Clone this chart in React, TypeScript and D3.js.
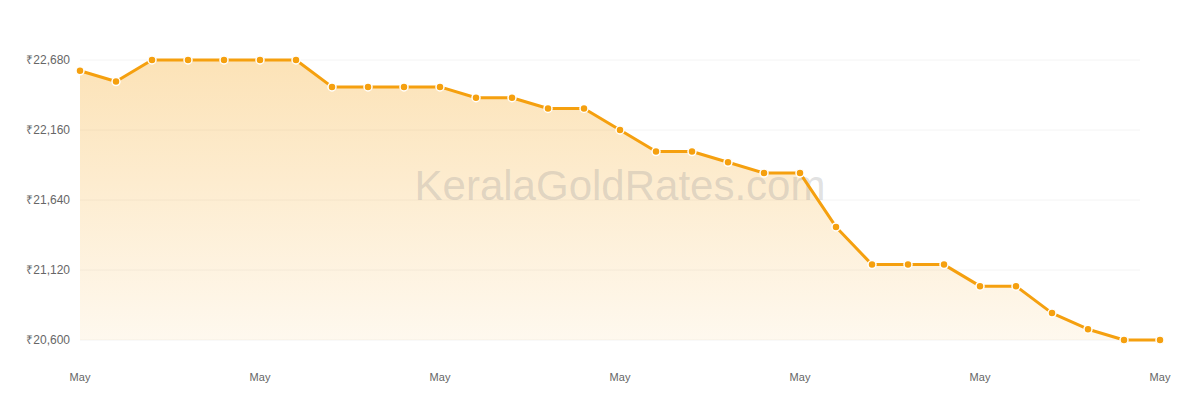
import React from "react";
import * as d3 from "d3";

// gold rate (22K, 8 gram) for each day of May
const dates = [
  "2024-05-01", "2024-05-02", "2024-05-03", "2024-05-04", "2024-05-05", "2024-05-06",
  "2024-05-07", "2024-05-08", "2024-05-09", "2024-05-10", "2024-05-11", "2024-05-12",
  "2024-05-13", "2024-05-14", "2024-05-15", "2024-05-16", "2024-05-17", "2024-05-18",
  "2024-05-19", "2024-05-20", "2024-05-21", "2024-05-22", "2024-05-23", "2024-05-24",
  "2024-05-25", "2024-05-26", "2024-05-27", "2024-05-28", "2024-05-29", "2024-05-30",
  "2024-05-31",
];
const rates = [
  22600, 22520, 22680, 22680, 22680, 22680, 22680, 22480, 22480, 22480, 22480,
  22400, 22400, 22320, 22320, 22160, 22000, 22000, 21920, 21840, 21840, 21440,
  21160, 21160, 21160, 21000, 21000, 20800, 20680, 20600, 20600,
];
const yTicks = [20600, 21120, 21640, 22160, 22680];
const tickDates = ["2024-05-01", "2024-05-06", "2024-05-11", "2024-05-16", "2024-05-21", "2024-05-26", "2024-05-31"];

const width = 1200;
const height = 400;
const lineColor = "#f5a00f";

export default function App() {
  const parse = d3.timeParse("%Y-%m-%d");
  const data = dates.map((d, i) => ({ date: parse(d) as Date, value: rates[i] }));

  const x = d3.scaleTime()
    .domain(d3.extent(data, d => d.date) as [Date, Date])
    .range([80, 1160]);

  const y = d3.scaleLinear()
    .domain([20600, 22680])
    .range([340, 60]);

  const line = d3.line<{ date: Date; value: number }>()
    .x(d => x(d.date))
    .y(d => y(d.value));

  const area = d3.area<{ date: Date; value: number }>()
    .x(d => x(d.date))
    .y0(y(20600))
    .y1(d => y(d.value));

  const fmtMonth = d3.timeFormat("%b");
  const fmtRate = (v: number) => "₹" + d3.format(",")(v);

  return (
    <svg width={width} height={height}
      style={{ position: "absolute", left: 0, top: 0, background: "#fff" }}
      fontFamily="'Liberation Sans', Arial, sans-serif">
      <defs>
        <linearGradient id="goldFill" gradientUnits="userSpaceOnUse" x1="0" y1={y(22680)} x2="0" y2={y(20600)}>
          <stop offset="0%" stopColor={lineColor} stopOpacity={0.3} />
          <stop offset="100%" stopColor={lineColor} stopOpacity={0.07} />
        </linearGradient>
      </defs>

      {yTicks.map(t => (
        <g key={t}>
          <line x1={80} x2={1140} y1={y(t)} y2={y(t)} stroke="#f4f4f4" strokeWidth={1} />
          <text x={70} y={y(t)} dy="0.35em" textAnchor="end" fontSize={12} fill="#666">
            {fmtRate(t)}
          </text>
        </g>
      ))}

      {tickDates.map(d => {
        const dt = parse(d) as Date;
        return (
          <text key={d} x={x(dt)} y={381} textAnchor="middle" fontSize={11} fill="#666">
            {fmtMonth(dt)}
          </text>
        );
      })}

      <path d={area(data) as string} fill="url(#goldFill)" />

      <text x={620} y={200} textAnchor="middle" fontSize={42} fill="#9a9a9a" fillOpacity={0.3}>
        KeralaGoldRates.com
      </text>

      <path d={line(data) as string} fill="none" stroke={lineColor} strokeWidth={3} strokeLinejoin="round" />

      {data.map((d, i) => (
        <circle key={i} cx={x(d.date)} cy={y(d.value)} r={4} fill={lineColor} stroke="#fff" strokeWidth={1.5} />
      ))}
    </svg>
  );
}
